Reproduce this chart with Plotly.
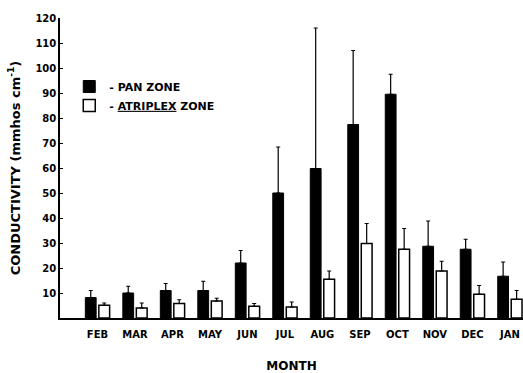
import plotly.graph_objects as go

months = ["FEB", "MAR", "APR", "MAY", "JUN", "JUL", "AUG", "SEP", "OCT", "NOV", "DEC", "JAN"]
pan_zone = [8.2, 10.0, 11.0, 11.0, 22.0, 50.0, 59.8, 77.4, 89.5, 28.7, 27.5, 16.7]
pan_err_top = [11.0, 12.7, 13.8, 14.7, 27.0, 68.4, 116.0, 107.0, 97.5, 38.8, 31.5, 22.4]
atriplex_zone = [5.1, 4.0, 5.8, 6.8, 4.7, 4.4, 15.5, 29.8, 27.5, 18.8, 9.5, 7.5]
atriplex_err_top = [6.0, 6.0, 7.3, 7.9, 5.8, 6.4, 18.8, 37.8, 35.8, 22.7, 13.0, 11.0]

pan_err = [t - v for t, v in zip(pan_err_top, pan_zone)]
atr_err = [t - v for t, v in zip(atriplex_err_top, atriplex_zone)]
x = list(range(len(months)))

font_fam = "DejaVu Sans"

fig = go.Figure()
fig.add_trace(go.Bar(
    x=x, y=pan_zone, name="- PAN ZONE",
    marker=dict(color="black", line=dict(color="black", width=1)),
    error_y=dict(type="data", symmetric=False, array=pan_err, arrayminus=[0]*len(x),
                 color="black", thickness=1.2, width=2),
))
fig.add_trace(go.Bar(
    x=x, y=atriplex_zone, name="- <u>ATRIPLEX</u> ZONE",
    marker=dict(color="white", line=dict(color="black", width=1.5)),
    error_y=dict(type="data", symmetric=False, array=atr_err, arrayminus=[0]*len(x),
                 color="black", thickness=1.2, width=2),
))

fig.update_layout(
    width=523, height=373,
    margin=dict(l=60, r=0, t=18, b=55, autoexpand=False),
    paper_bgcolor="white", plot_bgcolor="white",
    barmode="group", bargap=0.28, bargroupgap=0.2,
    showlegend=True,
    legend=dict(x=0.02, y=0.82, xanchor="left", yanchor="top",
                font=dict(family=font_fam, size=11, color="black", weight="bold"),
                bgcolor="rgba(0,0,0,0)", itemwidth=30, tracegroupgap=0),
    font=dict(family=font_fam, color="black"),
)
fig.update_xaxes(
    range=[-1, 11.35], tickmode="array", tickvals=x, ticktext=months,
    showline=True, linecolor="black", linewidth=1.5, ticks="",
    showgrid=False, zeroline=False, automargin=False, ticklabelstandoff=6,
    tickfont=dict(family=font_fam, size=10, color="black", weight="bold"),
    title=dict(text="MONTH", font=dict(family=font_fam, size=12, color="black", weight="bold"), standoff=24),
)
fig.update_yaxes(
    range=[0, 120], tickmode="array", tickvals=list(range(10, 121, 10)),
    showline=True, linecolor="black", linewidth=1.5, ticks="inside", ticklen=3, tickcolor="black",
    showgrid=False, zeroline=False, automargin=False,
    tickfont=dict(family=font_fam, size=10, color="black", weight="bold"),
    title=dict(text="CONDUCTIVITY (mmhos cm<sup>-1</sup>)",
               font=dict(family=font_fam, size=13, color="black", weight="bold"), standoff=12),
)

fig.write_html(
    "out.html",
    config={"displayModeBar": False},
    post_script="document.body.style.margin='0';document.body.style.overflow='hidden';",
)
